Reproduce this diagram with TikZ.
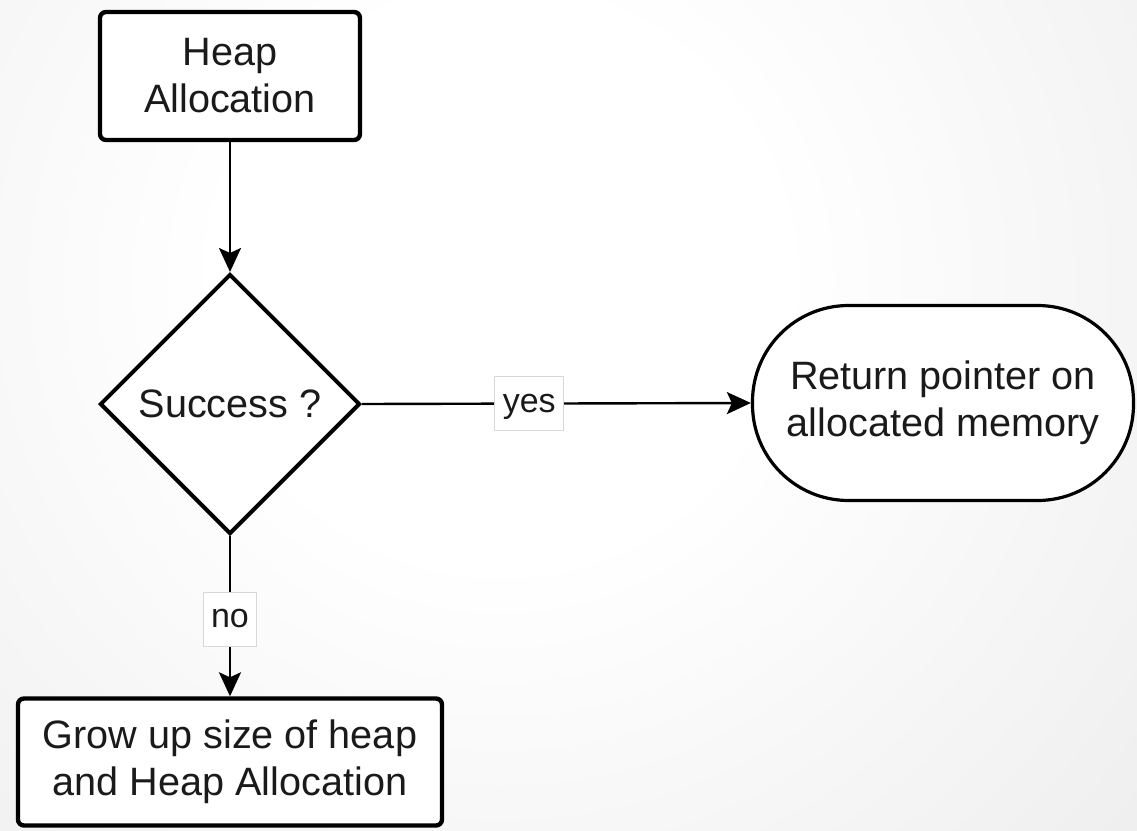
\documentclass[tikz,border=0pt]{standalone}
\usepackage{fontspec}
\setmainfont{Liberation Sans}
\usetikzlibrary{shapes.geometric,arrows.meta}
\definecolor{bgedge}{HTML}{D4D4D4}
\definecolor{labelrule}{HTML}{D8D8D8}
\definecolor{ink}{HTML}{1A1A1A}
\pgfdeclareradialshading{pageglow}{\pgfpoint{0bp}{0bp}}{color(0bp)=(white); color(8bp)=(white); color(50bp)=(bgedge)}
\begin{document}
\begin{tikzpicture}[x=0.5pt,y=-0.5pt,
  every node/.style={text=ink},
  procbox/.style={draw=black, line width=2.2pt, fill=white, rounded corners=3pt,
    align=center, font=\fontsize{19.8pt}{23.5pt}\selectfont, inner sep=0pt},
  decision/.style={draw=black, line width=2pt, fill=white, diamond, aspect=1,
    minimum width=130pt, minimum height=130pt, inner sep=0pt,
    font=\fontsize{19.8pt}{23.5pt}\selectfont},
  terminal/.style={draw=black, line width=1.6pt, fill=white, rectangle,
    rounded corners=48pt, minimum width=190.5pt, minimum height=97.5pt,
    inner sep=0pt, align=center, font=\fontsize{19.8pt}{23.5pt}\selectfont},
  flow/.style={draw=black, line width=1.2pt,
    -{Stealth[length=12pt,width=11pt,inset=2.5pt]}},
  edgelabel/.style={fill=white, draw=labelrule, line width=0.5pt,
    font=\fontsize{17pt}{20pt}\selectfont, inner xsep=4pt, inner ysep=0pt,
    text height=8.5pt, text depth=0pt, minimum height=27pt}
]
\useasboundingbox (0,0) rectangle (1137,831);

% page background: soft radial glow
\fill[bgedge] (0,0) rectangle (1137,831);
\begin{scope}
  \clip (0,0) rectangle (1137,831);
  \shade[shading=pageglow] (500,280) circle[radius=440pt];
\end{scope}

% flowchart nodes
\node[procbox, minimum width=130pt, minimum height=64pt] (heap) at (230,76) {Heap\\Allocation};
\node[decision] (dec) at (230,404) {Success ?};
\node[terminal] (ret) at (943,403) {Return pointer on\\allocated memory};
\node[procbox, minimum width=212pt, minimum height=63.5pt] (grow) at (230,762) {Grow up size of heap\\and Heap Allocation};

% connectors
\draw[flow] (heap) -- (dec);
\draw[flow] (dec.east) -- node[edgelabel, pos=0.43] (yes) {yes} (ret.west);
\draw[flow] (dec.south) -- node[edgelabel, pos=0.52] (no) {no} (grow.north);
\end{tikzpicture}
\end{document}
